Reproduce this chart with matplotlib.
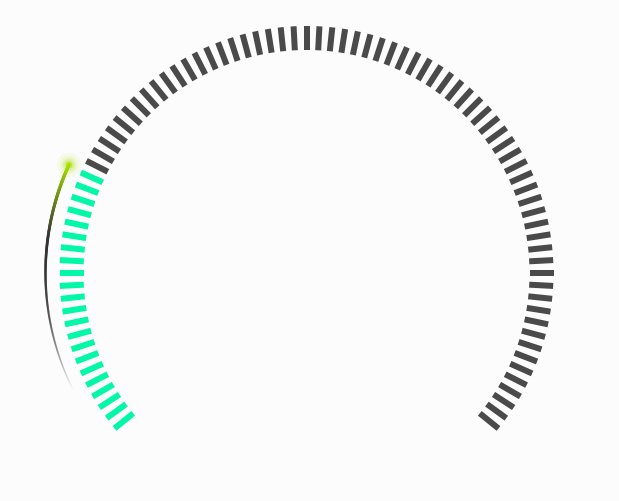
import numpy as np
import matplotlib
matplotlib.use("Agg")
import matplotlib.pyplot as plt
from matplotlib.collections import LineCollection
from matplotlib.colors import to_rgba

# gauge setup
start_angle = 219
end_angle = -39
gauge_min = 0
gauge_max = 100
value = 24.6
tick_count = 87

# colours
bg = "#fcfcfc"
active_color = "#02f8a6"
idle_color = "#4a4a4a"
tip_color = "#a6e000"
trail_color = "#333333"

W, H = 619, 501
cx, cy = 306.5, 273
r_out, r_in = 247, 223
r_trail = 261

fig = plt.figure(figsize=(W / 100, H / 100), dpi=100, facecolor=bg)
ax = fig.add_axes([0, 0, 1, 1])
ax.set_xlim(0, W)
ax.set_ylim(H, 0)
ax.set_aspect("equal")
ax.axis("off")
ax.set_facecolor(bg)

px = 0.72  # points per pixel


def pt(r, deg):
    a = np.radians(deg)
    return cx + r * np.cos(a), cy - r * np.sin(a)


frac = (value - gauge_min) / (gauge_max - gauge_min)
val_angle = start_angle + (end_angle - start_angle) * frac

# ticks
segs, cols = [], []
for i in range(tick_count):
    f = i / (tick_count - 1)
    a = start_angle + (end_angle - start_angle) * f
    segs.append([pt(r_in, a), pt(r_out, a)])
    cols.append(active_color if f <= frac + 1e-9 else idle_color)
ax.add_collection(LineCollection(segs, colors=cols, linewidths=6 * px,
                                 capstyle="butt"))

# pointer trail: arc that fades out behind the value
n = 200
angs = np.linspace(val_angle, val_angle + 51, n + 1)
xs, ys = pt(r_trail, angs)
tsegs, tcols, tw = [], [], []
c_tip = np.array(to_rgba(tip_color))
c_mid = np.array(to_rgba(trail_color))
for k in range(n):
    t = k / n
    if t < 0.32:
        c = c_tip + (c_mid - c_tip) * (t / 0.32)
    else:
        c = c_mid.copy()
        c[3] = max(0.0, 1 - (t - 0.32) / 0.68)
    tsegs.append([(xs[k], ys[k]), (xs[k + 1], ys[k + 1])])
    tcols.append(c)
    tw.append((3.4 - 2.0 * t) * px)
ax.add_collection(LineCollection(tsegs, colors=tcols, linewidths=tw,
                                 capstyle="round"))

# glow at the tip
tx, ty = pt(r_trail, val_angle)
for s, al in [(24, 0.08), (17, 0.13), (12, 0.22), (7, 0.6)]:
    ax.scatter([tx], [ty], s=(s * px) ** 2, color=tip_color, alpha=al,
               edgecolors="none", zorder=5)

fig.savefig("out.png", dpi=100, facecolor=bg)
